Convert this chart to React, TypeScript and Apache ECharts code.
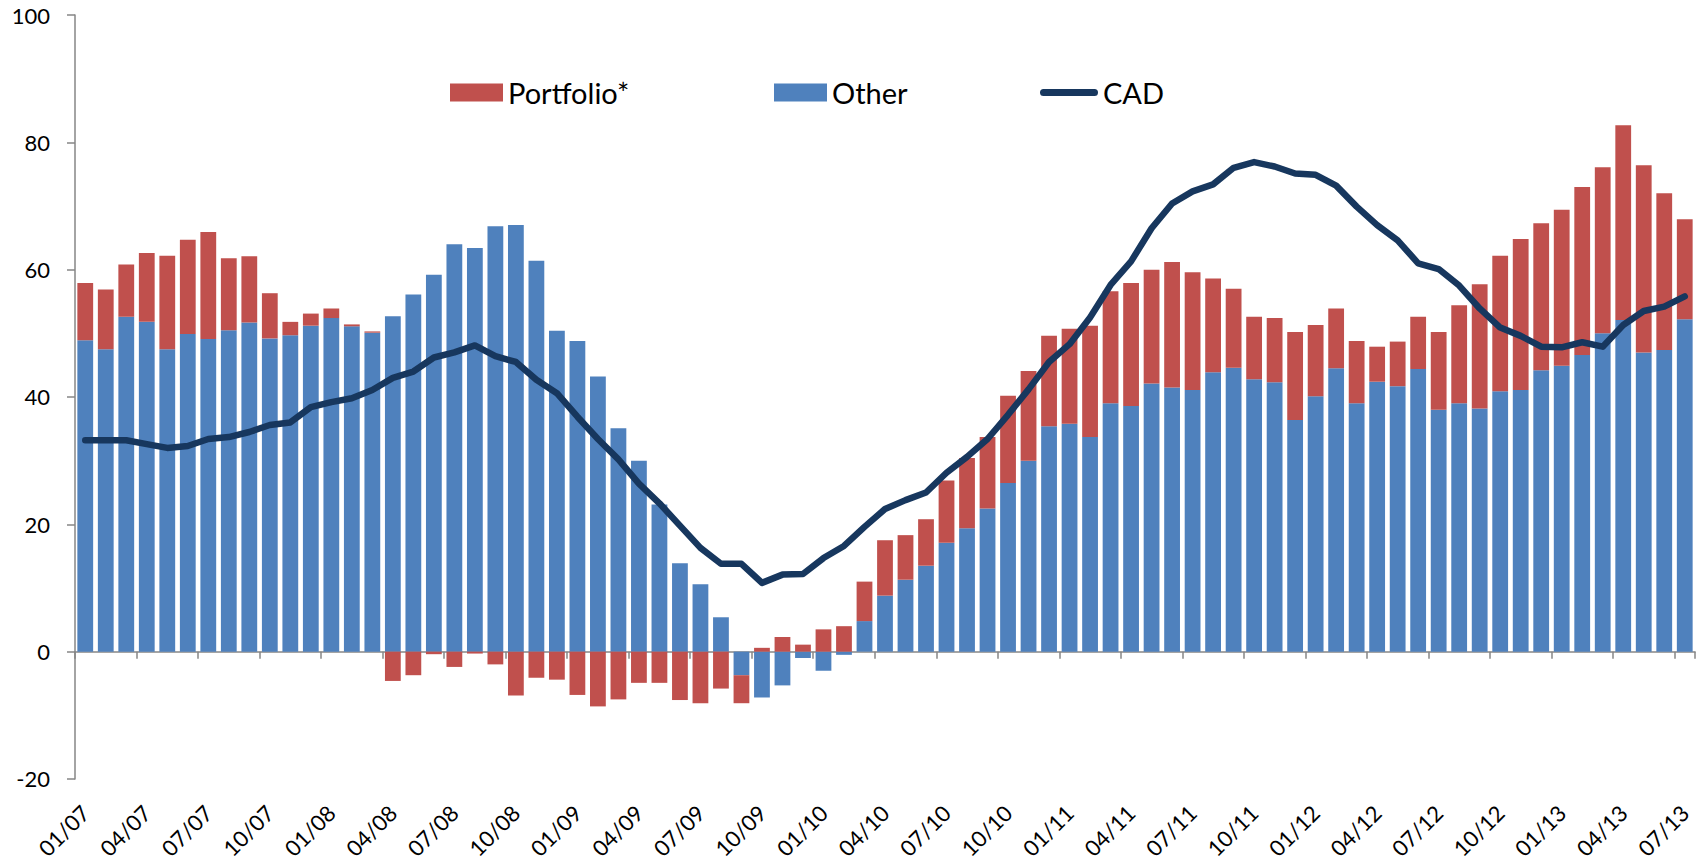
import React, { useEffect, useRef } from "react";
import * as echarts from "echarts";

const categories: string[] = [
  "01/07", "02/07", "03/07", "04/07", "05/07", "06/07", "07/07", "08/07", "09/07", "10/07", "11/07", "12/07",
  "01/08", "02/08", "03/08", "04/08", "05/08", "06/08", "07/08", "08/08", "09/08", "10/08", "11/08", "12/08",
  "01/09", "02/09", "03/09", "04/09", "05/09", "06/09", "07/09", "08/09", "09/09", "10/09", "11/09", "12/09",
  "01/10", "02/10", "03/10", "04/10", "05/10", "06/10", "07/10", "08/10", "09/10", "10/10", "11/10", "12/10",
  "01/11", "02/11", "03/11", "04/11", "05/11", "06/11", "07/11", "08/11", "09/11", "10/11", "11/11", "12/11",
  "01/12", "02/12", "03/12", "04/12", "05/12", "06/12", "07/12", "08/12", "09/12", "10/12", "11/12", "12/12",
  "01/13", "02/13", "03/13", "04/13", "05/13", "06/13", "07/13",
];

const other: number[] = [
  48.9, 47.5, 52.6, 51.8, 47.5, 49.9, 49.1, 50.5, 51.7, 49.2, 49.7, 51.2,
  52.4, 51.1, 50.1, 52.7, 56.1, 59.2, 64.0, 63.4, 66.8, 67.0, 61.4, 50.4,
  48.8, 43.2, 35.1, 30.0, 23.1, 13.9, 10.6, 5.4, -3.7, -7.2, -5.3, -1.0,
  -3.0, -0.5, 4.8, 8.8, 11.3, 13.5, 17.1, 19.4, 22.5, 26.5, 30.0, 35.4,
  35.8, 33.7, 39.0, 38.6, 42.1, 41.5, 41.1, 43.9, 44.6, 42.8, 42.3, 36.4,
  40.1, 44.5, 39.0, 42.4, 41.7, 44.4, 38.0, 39.0, 38.2, 40.9, 41.1, 44.2,
  44.9, 46.6, 50.0, 52.1, 47.0, 47.4, 52.2,
];

const portfolio: number[] = [
  9.0, 9.4, 8.2, 10.8, 14.7, 14.8, 16.8, 11.3, 10.4, 7.1, 2.1, 1.9,
  1.5, 0.3, 0.2, -4.6, -3.7, -0.4, -2.4, -0.3, -2.0, -6.9, -4.1, -4.4,
  -6.8, -8.6, -7.5, -4.9, -4.9, -7.6, -8.1, -5.8, -4.4, 0.6, 2.3, 1.1,
  3.5, 4.0, 6.2, 8.7, 7.0, 7.3, 9.8, 11.0, 11.2, 13.7, 14.1, 14.2,
  14.9, 17.5, 17.6, 19.3, 17.9, 19.7, 18.5, 14.7, 12.4, 9.8, 10.1, 13.8,
  11.2, 9.4, 9.8, 5.5, 7.0, 8.2, 12.2, 15.4, 19.5, 21.3, 23.7, 23.1,
  24.5, 26.4, 26.1, 30.6, 29.4, 24.6, 15.7,
];

const cad: number[] = [
  33.2, 33.2, 33.2, 32.6, 32.0, 32.3, 33.4, 33.7, 34.5, 35.6, 36.0, 38.4,
  39.2, 39.8, 41.1, 43.0, 44.0, 46.2, 47.0, 48.1, 46.4, 45.5, 42.7, 40.6,
  36.9, 33.4, 30.2, 26.4, 23.3, 19.8, 16.3, 13.8, 13.8, 10.8, 12.1, 12.2,
  14.7, 16.6, 19.6, 22.4, 23.8, 25.0, 28.1, 30.6, 33.4, 37.2, 41.2, 45.5,
  48.3, 52.5, 57.6, 61.3, 66.5, 70.4, 72.3, 73.4, 76.0, 76.9, 76.2, 75.1,
  74.9, 73.2, 69.9, 67.0, 64.6, 61.0, 60.1, 57.5, 53.9, 50.9, 49.6, 47.9,
  47.8, 48.6, 47.9, 51.3, 53.5, 54.2, 55.8,
];

const FONT = "Lato";
const AXIS_GREY = "#868686";
const LINE_ICON = "path://M3.5,0 L54.5,0 A3.5,3.5 0 0 1 54.5,7 L3.5,7 A3.5,3.5 0 0 1 3.5,0 Z";

export default function App() {
  const ref = useRef<HTMLDivElement>(null);

  useEffect(() => {
    if (!ref.current) return;
    const chart = echarts.init(ref.current, null, { renderer: "svg" });
    const legendText = { fontSize: 29, color: "#000", fontFamily: FONT };
    chart.setOption({
      animation: false,
      backgroundColor: "#fff",
      textStyle: { fontFamily: FONT },
      legend: [
        { left: 445, top: 73, itemWidth: 53, itemHeight: 18, icon: "rect", data: ["Portfolio*"], textStyle: legendText },
        { left: 769, top: 73, itemWidth: 53, itemHeight: 18, icon: "rect", data: ["Other"], textStyle: legendText },
        {
          left: 1035,
          top: 73,
          itemWidth: 58,
          itemHeight: 18,
          symbolKeepAspect: true,
          data: [{ name: "CAD", icon: LINE_ICON }],
          itemStyle: { color: "#17375E", borderWidth: 0 },
          textStyle: legendText,
        },
      ],
      grid: { left: 75, right: 11, top: 15, bottom: 82, containLabel: false },
      xAxis: [
        {
          type: "category",
          data: categories,
          position: "bottom",
          axisLine: { onZero: true, lineStyle: { color: AXIS_GREY, width: 1.5 } },
          axisTick: { show: true, interval: 2, length: 7, lineStyle: { color: AXIS_GREY, width: 1.5 } },
          axisLabel: { show: false },
          splitLine: { show: false },
        },
        {
          type: "category",
          data: categories,
          position: "bottom",
          offset: 0,
          axisLine: { show: false, onZero: false },
          axisTick: { show: false },
          axisLabel: { interval: 2, rotate: 45, margin: 30, fontSize: 22, color: "#000", fontFamily: FONT },
          splitLine: { show: false },
        },
      ],
      yAxis: {
        type: "value",
        min: -20,
        max: 100,
        interval: 20,
        axisLine: { show: true, lineStyle: { color: AXIS_GREY, width: 1.5 } },
        axisTick: { show: true, length: 8, lineStyle: { color: AXIS_GREY, width: 1.5 } },
        axisLabel: { fontSize: 22, color: "#000", margin: 25, fontFamily: FONT },
        splitLine: { show: false },
      },
      series: [
        {
          name: "Other",
          type: "bar",
          stack: "total",
          xAxisIndex: 0,
          data: other,
          barCategoryGap: "23%",
          itemStyle: { color: "#4F81BD" },
        },
        {
          name: "Portfolio*",
          type: "bar",
          stack: "total",
          xAxisIndex: 0,
          data: portfolio,
          barCategoryGap: "23%",
          itemStyle: { color: "#C0504D" },
        },
        {
          name: "CAD",
          type: "line",
          xAxisIndex: 0,
          data: cad,
          symbol: "none",
          smooth: false,
          lineStyle: { color: "#17375E", width: 6.5, cap: "round", join: "round" },
          itemStyle: { color: "#17375E" },
          z: 5,
        },
      ],
    });
    return () => chart.dispose();
  }, []);

  return (
    <div
      ref={ref}
      style={{ position: "fixed", left: 0, top: 0, width: 1706, height: 862, background: "#fff" }}
    />
  );
}
